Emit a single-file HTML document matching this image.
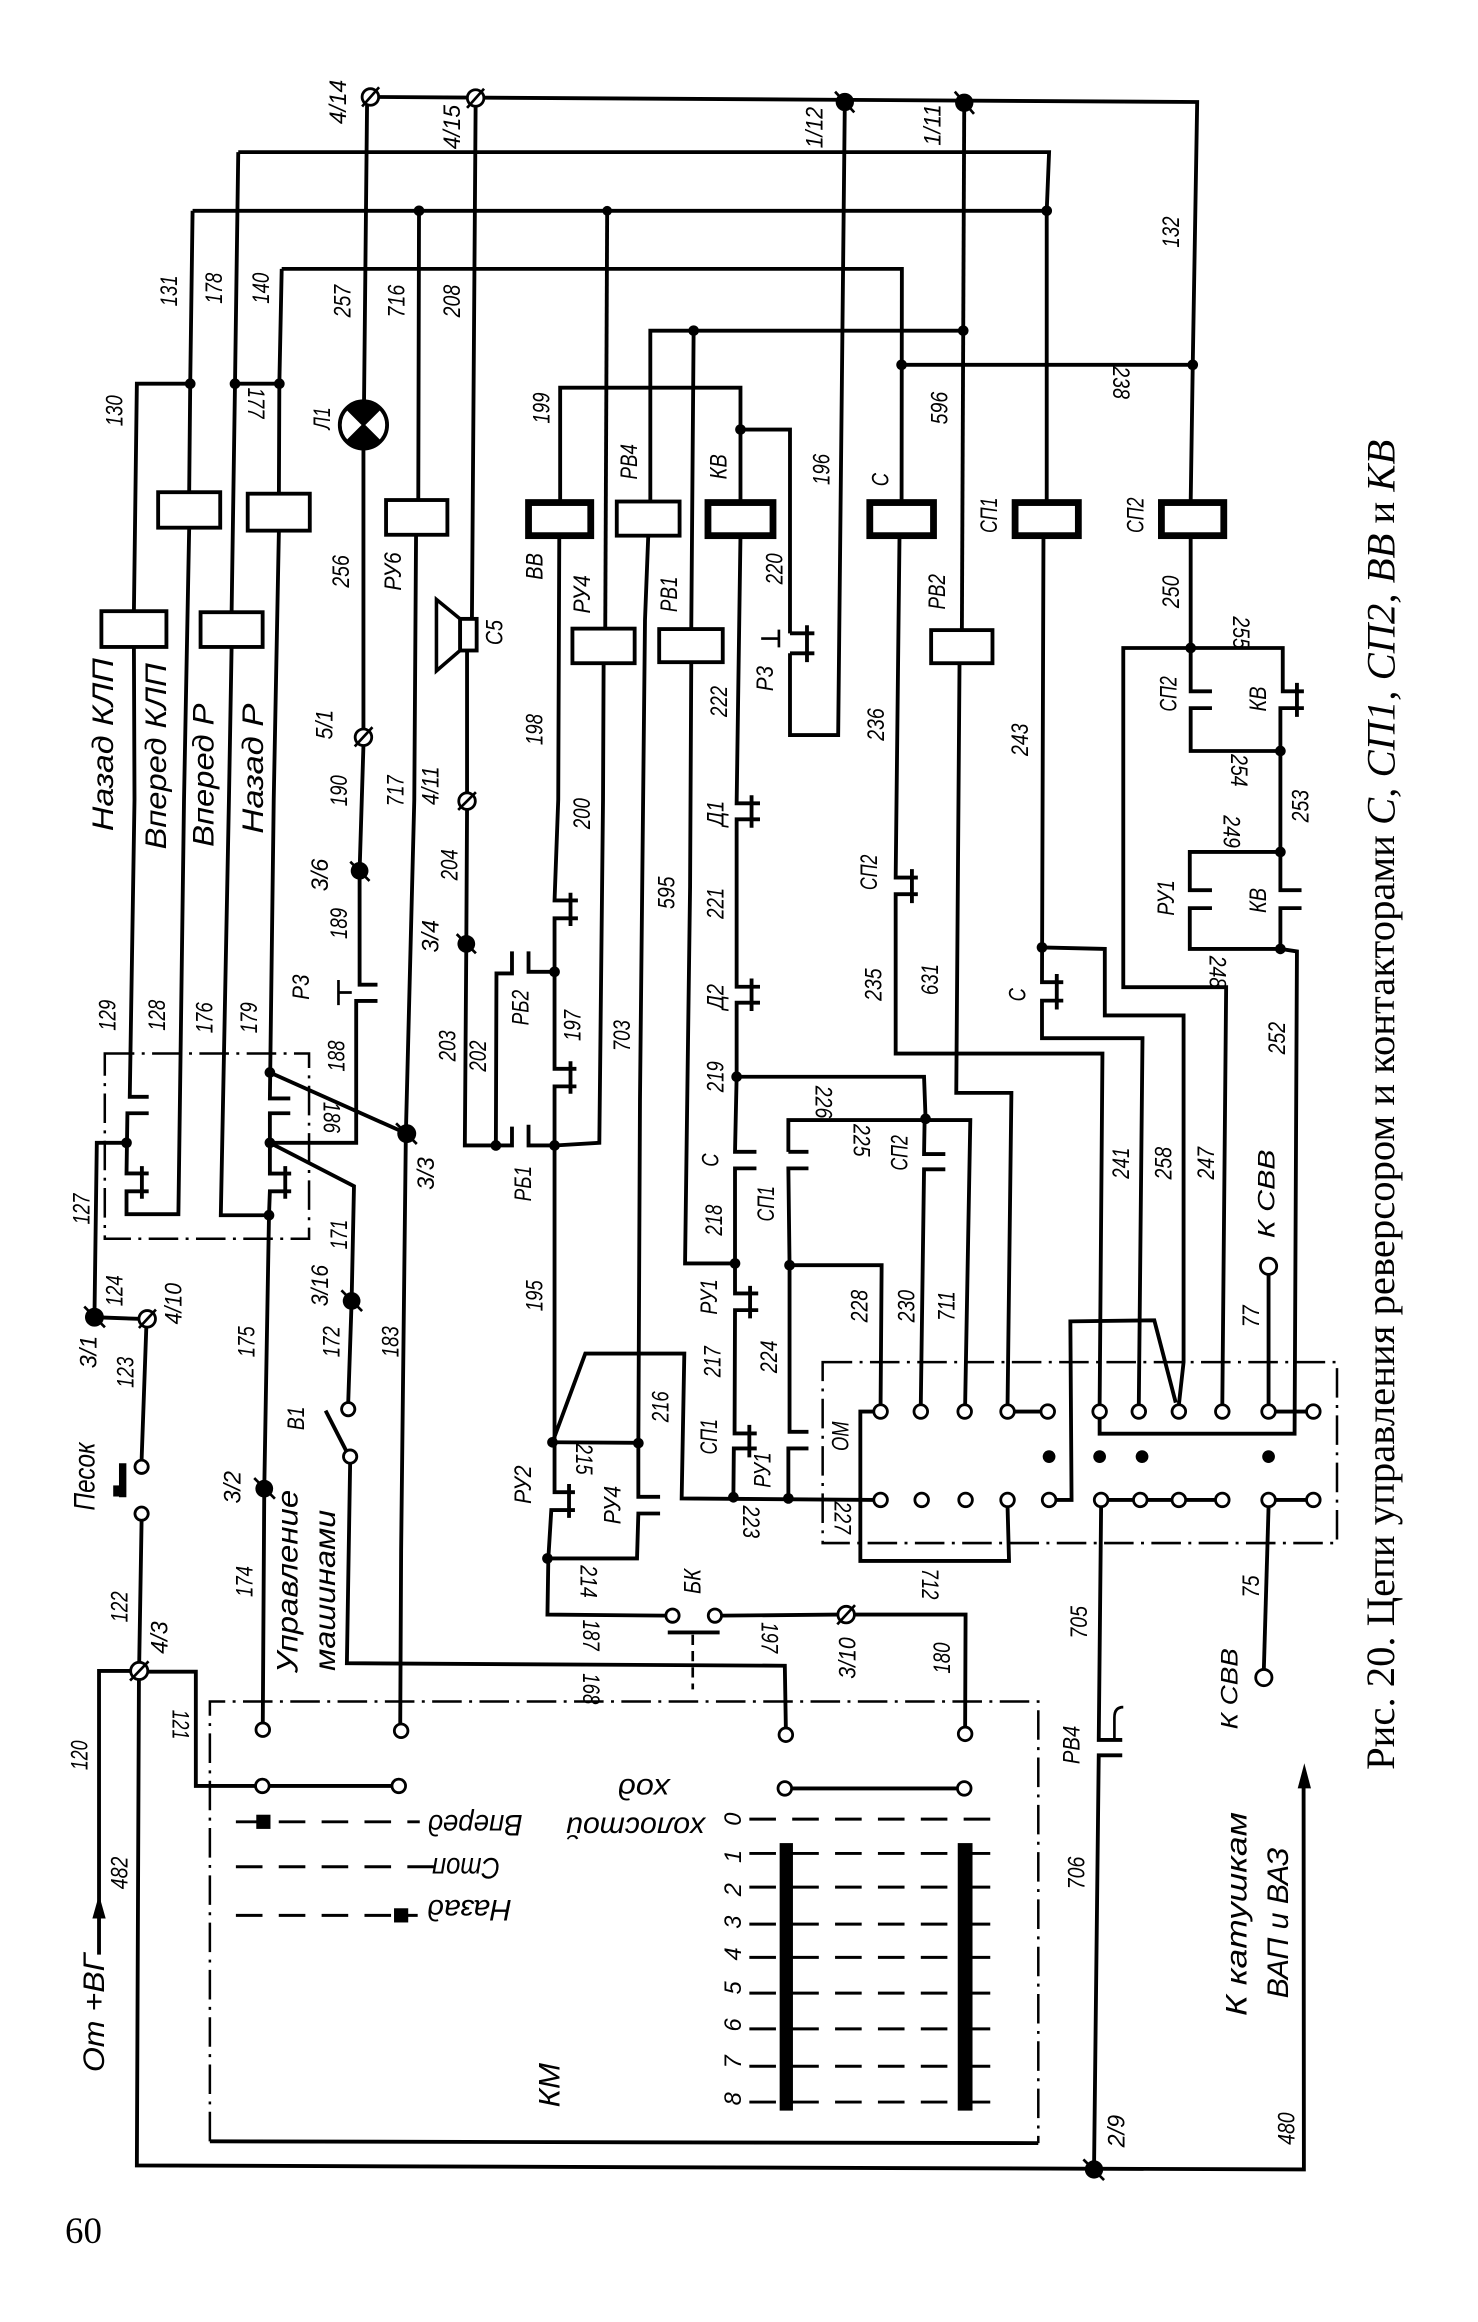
<!DOCTYPE html>
<html><head><meta charset="utf-8">
<style>
html,body{margin:0;padding:0;background:#fff;width:1478px;height:2322px;overflow:hidden}
svg{display:block}
.w{fill:none;stroke:#000;stroke-width:2.6;stroke-linejoin:miter}
.c{fill:#fff;stroke:#000;stroke-width:2.6}
.ct{fill:#fff;stroke:#000;stroke-width:4.6}
.dd{fill:none;stroke:#000;stroke-width:1.7;stroke-dasharray:20 5 2 5}
.o{fill:#fff;stroke:#000;stroke-width:1.9}
.dl{fill:none;stroke:#000;stroke-width:2;stroke-dasharray:18 11}
.tk{fill:none;stroke:#000;stroke-width:1.8}
text{font-family:"Liberation Sans",sans-serif;font-style:italic;fill:#000}
.l{font-size:16px;text-anchor:middle;dominant-baseline:central}
.b{font-size:20px;text-anchor:middle;dominant-baseline:central}
.cap{font-family:"Liberation Serif",serif;font-style:normal;font-size:27px;text-anchor:middle;dominant-baseline:central}
.pg{font-family:"Liberation Serif",serif;font-style:normal;font-size:25px;text-anchor:middle;dominant-baseline:central}
</style></head><body>
<svg width="1478" height="2322" viewBox="0 0 1000 1571" xmlns="http://www.w3.org/2000/svg">
<rect width="1000" height="1571" fill="#fff"/>

<!-- ===== TOP BUSES ===== -->
<path class="w" d="M256,65.6 L810,69 L807,246.8 L805.6,340"/>
<path class="w" d="M161.2,102.9 L709.8,102.9 L708.2,142.6 L708.2,340"/>
<path class="w" d="M130.3,142.6 L708.2,142.6"/>
<path class="w" d="M190.6,181.9 L610.2,181.9 L610,340"/>
<path class="w" d="M440,339.3 L440,223.7 L651.7,223.7"/>
<path class="w" d="M610,246.8 L807,246.8"/>
<path class="w" d="M652.4,69.5 L650.8,426.3"/>
<path class="w" d="M571.6,69 L567.1,497.3 L534.5,497.3 L534.5,442"/>
<path class="w" d="M379,340 L379,262.3 L501,262.3 L501,340"/>
<path class="w" d="M501,290.6 L534.5,290.6 L534.5,428.5"/>
<path class="w" d="M534.5,428.5 H551 M534.5,442 H551 M546,423 V448"/>
<path class="tk" d="M527,426 V438 M515,432 H527"/>

<!-- left top wiring -->
<path class="w" d="M130.3,142.6 L128.7,259.6 L128,333"/>
<path class="w" d="M128.7,259.6 L92.6,259.6 L90.6,413.5"/>
<path class="w" d="M161.2,102.9 L159,259.6 L156.7,414.2"/>
<path class="w" d="M190.6,181.9 L189,259.6 L188.7,334"/>
<path class="w" d="M159,259.6 L189,259.6"/>
<rect class="c" x="107" y="333" width="42" height="24"/>
<rect class="c" x="167.6" y="334" width="42" height="25"/>
<rect class="c" x="68.6" y="413.5" width="44" height="24.2"/>
<rect class="c" x="135.7" y="414.2" width="42" height="23.5"/>

<!-- contacts block left -->
<path class="w" d="M90.6,437.7 L91,541 L87.8,742.1 H100.6 M100.6,753.2 H86.2 L85.6,793.9 H100.6 M100.6,806 H85.6 L85.6,821.5 L120.7,821.5 L124.5,541 L128,357 M96,789 V811"/>
<path class="w" d="M188.7,359 L185.2,541 L182.6,743.2 H196.4 M196.4,753.2 H182.6 V794 H197 M197,806 H182.6 L182,822.2 L149.4,822.2 L154.9,541 L156.7,437.7 M193,789 V811"/>
<path class="w" d="M182,822.2 L178.8,1007.2 L177.8,1165.8"/>
<path class="w" d="M85.6,773.2 L65.5,773.2 L63.9,891.2 L94,892.3"/>
<path class="w" d="M182.6,725.6 L275.2,767"/>
<path class="w" d="M182.6,773.2 L239.5,802.5 L237.9,880.2 L235.6,948.9"/>
<path class="w" d="M182.6,773.2 L241,773.2 L241,677.2 H255.4 M255.4,666.2 H243.3 L243.3,589.2 L245.9,504.3"/>
<path class="tk" d="M229,663 V680 M229,671.5 H238"/>
<rect class="dd" x="70.9" y="712.8" width="138.2" height="125.3"/>

<!-- lamp -->
<path class="w" d="M248.4,65.6 L246.3,271.5 M245.9,303.5 L245.9,493.3"/>
<circle cx="245.9" cy="287.5" r="16" fill="#fff" stroke="#000" stroke-width="2.6"/>
<path d="M245.9,287.5 L234.6,276.2 A16,16 0 0 1 257.2,276.2 Z M245.9,287.5 L257.2,298.8 A16,16 0 0 1 234.6,298.8 Z" fill="#000"/>
<path class="tk" d="M234.6,276.2 L257.2,298.8 M257.2,276.2 L234.6,298.8"/>

<!-- РУ6 -->
<path class="w" d="M283.5,142.6 L283,338.3 M281.5,361.8 L280.3,541 L274.6,767 L271.4,1048.6 L270.8,1166"/>
<rect class="c" x="261.2" y="338.3" width="41.5" height="23.5"/>

<!-- 208 / speaker -->
<path class="w" d="M321.8,71.8 L319.3,418.7 M316,440.1 L316,536.5 M316,547.5 L315.5,638.6 L314.5,775 L346.4,775 L346.4,762.2 M357.6,761 L357.6,775 L375.2,775"/>
<path class="w" d="M335.5,775 L335.9,658.6 L346.4,658.6 L346.4,643.7 M357.6,643.7 L357.6,657.5 L375.2,657.5"/>
<polygon points="311.3,418.7 295.3,405.6 295.3,453.9 311.3,440.1" fill="#fff" stroke="#000" stroke-width="2.4"/>
<rect class="c" x="311.3" y="418.7" width="11.2" height="21.4"/>

<!-- ВВ line -->
<rect class="ct" x="357.6" y="340" width="42.1" height="22.4"/>
<path class="w" d="M378.4,362.4 L377.7,541 L375.2,609.2 H391 M391,621.3 H375.2 L375.2,723.1 H390 M390,735 H375.2 L375.2,1009.6 H389 M389,1021.7 H373 L371,1054.4 L370.4,1092.4 L450.5,1093.1 M386,604 V626.5 M386,718 V740 M385,1004 V1027"/>
<path class="w" d="M408.4,448.7 L408,541 L405.5,773.2 L375.2,775"/>
<rect class="c" x="387.3" y="425.3" width="42.1" height="23.4"/>
<path class="w" d="M410.8,142.6 L409.5,425.3"/>
<path class="w" d="M373.8,975.8 L396,915.8 L463,915.8 L461.2,1013.8 L591.3,1014.8"/>
<path class="w" d="M373.8,975.8 L431.7,976.2"/>

<!-- РВ4 / 595 -->
<rect class="c" x="417.3" y="339.3" width="42.5" height="23.1"/>
<path class="w" d="M438.6,362.4 L436.4,419.5 L433,744 L431.9,976.6 L431.9,1012.7 H446.6 M446.6,1024 H431.9 L431,1054.4 L370.4,1054.4"/>
<!-- РВ1 -->
<rect class="c" x="446" y="425.6" width="43" height="22.4"/>
<path class="w" d="M469.3,223.7 L467.7,425.6 M467.7,448 L466.9,600 L463.5,854.8 L497.3,854.8"/>
<!-- КВ -->
<rect class="ct" x="479" y="340" width="44" height="22.4"/>
<path class="w" d="M501,362.4 L498.4,543.5 H514.2 M514.2,554.3 H498.4 L498.4,667.6 H514.2 M514.2,678.4 H498.4 L498.4,728.5 L497.3,779.3 H511.8 M511.8,790.5 H497.3 L497.3,875.1 H513 M513,886.4 H497.3 L497,969.8 H512 M512,980 H496.5 L496.2,1012.7 M508.5,538 V560 M508.5,662 V684 M507.5,870 V892 M507,964 V986"/>
<path class="w" d="M498.4,728.5 L625.2,728.5 L626.2,756"/>
<path class="w" d="M533.4,779.3 L533.4,757.8 L656.5,757.8 L653,950.5"/>
<path class="w" d="M533.4,779.3 H547 M547,790.5 H533.4 L534.2,856 L534.2,968.7 H547 M547,980 H533.4 L533.4,1013.8"/>
<path class="w" d="M534.2,856 L596.5,856 L595.8,950.5"/>
<path class="w" d="M625.6,757 L625.2,780.8 H639.6 M639.6,791.1 H625.2 L623,950.5"/>

<!-- С coil -->
<rect class="ct" x="588.5" y="340" width="43.1" height="22.4"/>
<path class="w" d="M608.6,362.4 L606,593.7 H621 M621,605 H606 L606,712.8 L745.9,712.8 L744,950.5 M617,588 V611"/>
<!-- РВ2 -->
<rect class="c" x="630" y="426.3" width="41.5" height="22.4"/>
<path class="w" d="M649.2,448.7 L647,739.4 L684.3,739.4 L681.7,950.5"/>
<!-- СП1 -->
<rect class="ct" x="686.8" y="340" width="42.8" height="22.4"/>
<path class="w" d="M706,362.4 L705,664.5 H719.4 M719.4,677 H705 L705,702.4 L773,702.4 L770.5,950.5 M715,659 V683"/>
<path class="w" d="M705,641 L747.5,642 L747.5,687 L800.8,687 L800.8,921.6 L797.6,950.5"/>
<path class="w" d="M714.3,1014.8 L725,1014.8 L724.2,894 L781,893.3 L795.5,949"/>
<!-- СП2 -->
<rect class="ct" x="785.8" y="340" width="42.2" height="22.4"/>
<path class="w" d="M805.6,362.4 L805.6,467.7 H820 M820,479.1 H805.6 L805.6,508.1 L866.3,508.1"/>
<path class="w" d="M805.6,438.4 L760,438.4 L760,667.9 L829.6,667.9 L827,950.5"/>
<path class="w" d="M805.6,438.4 L867.9,438.4 L867.9,467.7 H882.2 M882.2,479.1 H866.3 L866.3,602.3 H880.6 M880.6,614.4 H866.3 L866.3,642 L877.5,643.7 L875.9,970 L744,970 L744,959.5 M877.5,462 V485"/>
<path class="w" d="M866.3,576.4 L805,576.4 L805,602.3 H820 M820,614.4 H805 L805,642 L866.3,642"/>
<path class="w" d="M858.3,862.2 L858.3,950.5"/>
<circle class="o" cx="858.3" cy="856.7" r="5.5"/>

<!-- OM block -->
<rect class="dd" x="556.6" y="921.6" width="348" height="122.4"/>
<path class="w" d="M686.2,955 H704.4 M862.8,955 H884.1 M749.5,1014.8 H767 M776,1014.8 H793.1 M802.1,1014.8 H822.5 M862.8,1014.8 H884.1"/>
<path class="w" d="M591.3,955 H582.1 V1056.1 H682.7 L681.7,1019.3"/>
<path class="w" d="M745,1019.3 L743.4,1177.2 H759.3 M759.3,1187.6 H743.4 L740.2,1467.8"/>
<path class="tk" d="M754,1177.2 V1162 Q754,1155 760,1155" stroke-width="2.2"/>
<path class="w" d="M858.3,1019.3 L855.1,1129.5"/>
<circle class="o" cx="855.1" cy="1135" r="5.5"/>
<g class="o">
<circle cx="595.8" cy="955" r="4.6"/><circle cx="623" cy="955" r="4.6"/><circle cx="652.7" cy="955" r="4.6"/><circle cx="681.7" cy="955" r="4.6"/><circle cx="708.9" cy="955" r="4.6"/><circle cx="744" cy="955" r="4.6"/><circle cx="770.5" cy="955" r="4.6"/><circle cx="797.6" cy="955" r="4.6"/><circle cx="827" cy="955" r="4.6"/><circle cx="858.3" cy="955" r="4.6"/><circle cx="888.6" cy="955" r="4.6"/>
<circle cx="595.8" cy="1014.8" r="4.6"/><circle cx="623.6" cy="1014.8" r="4.6"/><circle cx="653.3" cy="1014.8" r="4.6"/><circle cx="681.7" cy="1014.8" r="4.6"/><circle cx="709.8" cy="1014.8" r="4.6"/><circle cx="745" cy="1014.8" r="4.6"/><circle cx="771.5" cy="1014.8" r="4.6"/><circle cx="797.6" cy="1014.8" r="4.6"/><circle cx="827" cy="1014.8" r="4.6"/><circle cx="858.3" cy="1014.8" r="4.6"/><circle cx="888.6" cy="1014.8" r="4.6"/>
</g>
<g fill="#000"><circle cx="709.8" cy="985.5" r="4.3"/><circle cx="744" cy="985.5" r="4.3"/><circle cx="772.7" cy="985.5" r="4.3"/><circle cx="858.3" cy="985.5" r="4.3"/></g>

<!-- Песок / left supply -->
<path class="w" d="M99,897.8 L95.8,987.9 M95.8,1028.6 L94.2,1124.5"/>
<circle class="o" cx="95.8" cy="992.4" r="4.5"/><circle class="o" cx="95.8" cy="1024.1" r="4.5"/>
<rect x="80.5" y="990" width="5" height="23" fill="#000"/>
<rect x="76.6" y="1005" width="6" height="7.5" fill="#000"/>
<path class="w" d="M88.7,1130.5 H67 V1322.5"/>
<polygon points="67,1282 62.5,1298 71.5,1298" fill="#000"/>
<path class="w" d="M99.7,1131 H132.5 V1208.3 H173 M182,1208.3 H265.3"/>
<path class="w" d="M94,1136 L92.6,1465.1 L882.2,1467.8 L882,1205"/>
<polygon points="882.5,1193 878,1210 887,1210" fill="#000"/>

<!-- КМ -->
<path class="dd" d="M142,1448.8 V1151.2 H702.5 V1450"/>
<path class="w" d="M142,1448.8 L702.5,1450" stroke-width="2"/>
<path class="w" d="M535.5,1210 H648"/>
<path class="w" d="M236.9,990 L234.7,1125.3 L531,1127 L531.7,1169.2"/>
<path class="w" d="M488.2,1093.1 L567,1092.4 M578,1092.4 L653.3,1092.4 L653,1168.6"/>
<path class="w" d="M451.8,1104.5 H486.9" stroke-width="3.6"/>
<path class="tk" d="M468.7,1106 V1143" stroke-dasharray="7 4" stroke-width="2.2"/>
<path class="w" d="M220.3,954.4 L234.2,981.5"/>
<g class="o">
<circle cx="177.8" cy="1170.3" r="4.6"/><circle cx="271.4" cy="1171" r="4.6"/><circle cx="531.7" cy="1173.7" r="4.6"/><circle cx="653" cy="1173.1" r="4.6"/>
<circle cx="177.5" cy="1208.3" r="4.6"/><circle cx="269.8" cy="1208.3" r="4.6"/><circle cx="531" cy="1210" r="4.6"/><circle cx="652.4" cy="1210" r="4.6"/>
<circle cx="455" cy="1093.1" r="4.5"/><circle cx="483.7" cy="1093.1" r="4.5"/>
<circle cx="235.6" cy="953.4" r="4.5"/><circle cx="236.9" cy="985.5" r="4.5"/>
</g>
<path class="dl" d="M159.6,1232.6 H284 M159.6,1263 H294 M159.6,1295.9 H282.6"/>
<rect x="173.4" y="1227.8" width="9.6" height="9.6" fill="#000"/>
<rect x="266.6" y="1291.1" width="9.6" height="9.6" fill="#000"/>
<path class="dl" d="M507,1230.8 H680 M507,1254 H680 M507,1276.8 H680 M507,1301.8 H680 M507,1324.3 H680 M507,1348.5 H680 M507,1372.7 H680 M507,1398 H680 M507,1422.2 H680" stroke-dasharray="17 9"/>
<rect x="527.5" y="1247" width="9" height="181" fill="#000"/>
<rect x="648" y="1247" width="10" height="181" fill="#000"/>

<!-- junction dots -->
<g fill="#000">
<circle cx="128.7" cy="259.6" r="3.6"/><circle cx="159" cy="259.6" r="3.6"/><circle cx="189" cy="259.6" r="3.6"/>
<circle cx="283.5" cy="142.6" r="3.6"/><circle cx="410.8" cy="142.6" r="3.3"/><circle cx="708.2" cy="142.6" r="3.6"/>
<circle cx="469.3" cy="223.7" r="3.6"/><circle cx="651.7" cy="223.7" r="3.6"/>
<circle cx="610" cy="246.8" r="3.6"/><circle cx="807" cy="246.8" r="3.6"/>
<circle cx="501" cy="290.6" r="3.6"/>
<circle cx="85.6" cy="773.2" r="3.6"/><circle cx="182.6" cy="725.6" r="3.6"/><circle cx="182.6" cy="773.2" r="3.6"/><circle cx="182" cy="822.2" r="3.6"/>
<circle cx="375.2" cy="657.5" r="3.6"/><circle cx="375.2" cy="775" r="3.6"/><circle cx="335.5" cy="775" r="3.6"/>
<circle cx="373.8" cy="975.8" r="3.6"/><circle cx="431.9" cy="976.4" r="3.6"/><circle cx="370.4" cy="1054.4" r="3.6"/>
<circle cx="498.4" cy="728.5" r="3.6"/><circle cx="497.3" cy="854.8" r="3.6"/><circle cx="496.2" cy="1013" r="3.6"/><circle cx="533.4" cy="1013.8" r="3.6"/>
<circle cx="534.2" cy="856" r="3.6"/><circle cx="626.2" cy="757" r="3.6"/>
<circle cx="705" cy="641" r="3.6"/>
<circle cx="805.6" cy="438.4" r="3.6"/><circle cx="866.3" cy="508.1" r="3.6"/><circle cx="866.3" cy="576.4" r="3.6"/><circle cx="866.3" cy="642" r="3.6"/>
</g>
<!-- big terminal dots -->
<g fill="#000">
<circle cx="571.6" cy="69" r="6.2"/><circle cx="652.4" cy="69.5" r="6.2"/>
<circle cx="243.3" cy="589.2" r="6"/><circle cx="315.5" cy="638.6" r="6"/><circle cx="275.2" cy="767" r="6.4"/>
<circle cx="63.9" cy="891.2" r="6.4"/><circle cx="237.9" cy="880.2" r="6"/><circle cx="178.8" cy="1007.2" r="6"/>
<circle cx="740.2" cy="1467.8" r="6.2"/>
</g>
<path class="tk" d="M565,62 L578,76 M646,62 L659,77 M237,583 L250,596 M309,632 L322,645 M268,760 L282,774 M57,884 L71,898 M231,873 L245,887 M172,1000 L186,1014 M733,1461 L747,1475"/>
<!-- slash terminals -->
<g class="o">
<circle cx="250.6" cy="65.6" r="5.6"/><circle cx="321.8" cy="66.3" r="5.6"/><circle cx="245.9" cy="498.8" r="5.6"/><circle cx="316" cy="542" r="5.6"/>
<circle cx="99.6" cy="892.3" r="5.6"/><circle cx="94.2" cy="1130.5" r="5.8"/><circle cx="572.5" cy="1092.4" r="5.6"/>
</g>
<path class="tk" d="M245,72 L256.5,59 M316,73 L327.5,60 M240,505 L252,492 M310,548 L322,536 M94,898.5 L105.5,886 M88,1137 L100.5,1124 M566.5,1099 L578.5,1086"/>

<!-- ===== LABELS ===== -->
<g class="l">
<text transform="translate(229.5,69) rotate(-90)" textLength="30" lengthAdjust="spacingAndGlyphs">4/14</text>
<text transform="translate(306.5,86) rotate(-90)" textLength="30" lengthAdjust="spacingAndGlyphs">4/15</text>
<text transform="translate(551.8,86.3) rotate(-90)" textLength="28" lengthAdjust="spacingAndGlyphs">1/12</text>
<text transform="translate(631.6,84.6) rotate(-90)" textLength="28" lengthAdjust="spacingAndGlyphs">1/11</text>
<text transform="translate(792.9,157) rotate(-90)" textLength="21" lengthAdjust="spacingAndGlyphs">132</text>
<text transform="translate(115,196.8) rotate(-90)" textLength="21" lengthAdjust="spacingAndGlyphs">131</text>
<text transform="translate(145.3,195) rotate(-90)" textLength="21" lengthAdjust="spacingAndGlyphs">178</text>
<text transform="translate(177.2,195) rotate(-90)" textLength="21" lengthAdjust="spacingAndGlyphs">140</text>
<text transform="translate(232.4,203.7) rotate(-90)" textLength="22" lengthAdjust="spacingAndGlyphs">257</text>
<text transform="translate(268.8,203.7) rotate(-90)" textLength="22" lengthAdjust="spacingAndGlyphs">716</text>
<text transform="translate(306.5,203.7) rotate(-90)" textLength="22" lengthAdjust="spacingAndGlyphs">208</text>
<text transform="translate(757.7,258.9) rotate(90)" textLength="22" lengthAdjust="spacingAndGlyphs">238</text>
<text transform="translate(78.2,277.9) rotate(-90)" textLength="21" lengthAdjust="spacingAndGlyphs">130</text>
<text transform="translate(172.4,272.7) rotate(90)" textLength="21" lengthAdjust="spacingAndGlyphs">177</text>
<text transform="translate(218.7,283) rotate(-90)" textLength="15" lengthAdjust="spacingAndGlyphs">Л1</text>
<text transform="translate(367.2,276.1) rotate(-90)" textLength="21" lengthAdjust="spacingAndGlyphs">199</text>
<text transform="translate(426.2,312.4) rotate(-90)" textLength="24" lengthAdjust="spacingAndGlyphs">РВ4</text>
<text transform="translate(486.9,315.8) rotate(-90)" textLength="17" lengthAdjust="spacingAndGlyphs">КВ</text>
<text transform="translate(636.4,276.1) rotate(-90)" textLength="22" lengthAdjust="spacingAndGlyphs">596</text>
<text transform="translate(556.6,317.6) rotate(-90)" textLength="21" lengthAdjust="spacingAndGlyphs">196</text>
<text transform="translate(596.5,324.5) rotate(-90)" textLength="9" lengthAdjust="spacingAndGlyphs">С</text>
<text transform="translate(669.9,348.6) rotate(-90)" textLength="24" lengthAdjust="spacingAndGlyphs">СП1</text>
<text transform="translate(768.9,348.6) rotate(-90)" textLength="24" lengthAdjust="spacingAndGlyphs">СП2</text>
<text transform="translate(362.4,383.2) rotate(-90)" textLength="18" lengthAdjust="spacingAndGlyphs">ВВ</text>
<text transform="translate(231.5,386.6) rotate(-90)" textLength="22" lengthAdjust="spacingAndGlyphs">256</text>
<text transform="translate(266.6,386.6) rotate(-90)" textLength="26" lengthAdjust="spacingAndGlyphs">РУ6</text>
<text transform="translate(524.6,384.9) rotate(-90)" textLength="21" lengthAdjust="spacingAndGlyphs">220</text>
<text transform="translate(394.3,402.1) rotate(-90)" textLength="26" lengthAdjust="spacingAndGlyphs">РУ4</text>
<text transform="translate(453.4,402.1) rotate(-90)" textLength="24" lengthAdjust="spacingAndGlyphs">РВ1</text>
<text transform="translate(634.8,400.4) rotate(-90)" textLength="24" lengthAdjust="spacingAndGlyphs">РВ2</text>
<text transform="translate(792.9,400.4) rotate(-90)" textLength="22" lengthAdjust="spacingAndGlyphs">250</text>
<text transform="translate(335.2,428) rotate(-90)" textLength="17" lengthAdjust="spacingAndGlyphs">С5</text>
<text transform="translate(839.1,428) rotate(90)" textLength="22" lengthAdjust="spacingAndGlyphs">255</text>
<text transform="translate(518.3,459.1) rotate(-90)" textLength="17" lengthAdjust="spacingAndGlyphs">Р3</text>
<text transform="translate(791.2,469.5) rotate(-90)" textLength="24" lengthAdjust="spacingAndGlyphs">СП2</text>
<text transform="translate(851.9,472.9) rotate(-90)" textLength="17" lengthAdjust="spacingAndGlyphs">КВ</text>
<text transform="translate(362.4,493.6) rotate(-90)" textLength="21" lengthAdjust="spacingAndGlyphs">198</text>
<text transform="translate(487,474.6) rotate(-90)" textLength="21" lengthAdjust="spacingAndGlyphs">222</text>
<text transform="translate(220.3,490.2) rotate(-90)" textLength="20" lengthAdjust="spacingAndGlyphs">5/1</text>
<text transform="translate(593.3,490.2) rotate(-90)" textLength="22" lengthAdjust="spacingAndGlyphs">236</text>
<text transform="translate(690.7,500.5) rotate(-90)" textLength="22" lengthAdjust="spacingAndGlyphs">243</text>
<text transform="translate(837.5,521.2) rotate(90)" textLength="22" lengthAdjust="spacingAndGlyphs">254</text>
<text transform="translate(229.9,535) rotate(-90)" textLength="21" lengthAdjust="spacingAndGlyphs">190</text>
<text transform="translate(268.2,535) rotate(-90)" textLength="21" lengthAdjust="spacingAndGlyphs">717</text>
<text transform="translate(292.1,531.6) rotate(-90)" textLength="26" lengthAdjust="spacingAndGlyphs">4/11</text>
<text transform="translate(394.3,550.5) rotate(-90)" textLength="21" lengthAdjust="spacingAndGlyphs">200</text>
<text transform="translate(880.6,545.4) rotate(-90)" textLength="22" lengthAdjust="spacingAndGlyphs">253</text>
<text transform="translate(832.7,562.6) rotate(90)" textLength="22" lengthAdjust="spacingAndGlyphs">249</text>
<text transform="translate(217.1,592) rotate(-90)" textLength="22" lengthAdjust="spacingAndGlyphs">3/6</text>
<text transform="translate(304.9,585.1) rotate(-90)" textLength="21" lengthAdjust="spacingAndGlyphs">204</text>
<text transform="translate(451.5,604) rotate(-90)" textLength="22" lengthAdjust="spacingAndGlyphs">595</text>
<text transform="translate(484.9,611.2) rotate(-90)" textLength="21" lengthAdjust="spacingAndGlyphs">221</text>
<text transform="translate(484.9,550.3) rotate(-90)" textLength="17" lengthAdjust="spacingAndGlyphs">Д1</text>
<text transform="translate(484.9,674.3) rotate(-90)" textLength="17" lengthAdjust="spacingAndGlyphs">Д2</text>
<text transform="translate(484.9,728.5) rotate(-90)" textLength="21" lengthAdjust="spacingAndGlyphs">219</text>
<text transform="translate(588.5,590.2) rotate(-90)" textLength="24" lengthAdjust="spacingAndGlyphs">СП2</text>
<text transform="translate(789.6,607.5) rotate(-90)" textLength="24" lengthAdjust="spacingAndGlyphs">РУ1</text>
<text transform="translate(851.9,609.2) rotate(-90)" textLength="17" lengthAdjust="spacingAndGlyphs">КВ</text>
<text transform="translate(229.9,624.8) rotate(-90)" textLength="21" lengthAdjust="spacingAndGlyphs">189</text>
<text transform="translate(292.1,633.4) rotate(-90)" textLength="22" lengthAdjust="spacingAndGlyphs">3/4</text>
<text transform="translate(823.2,657.6) rotate(90)" textLength="22" lengthAdjust="spacingAndGlyphs">248</text>
<text transform="translate(591.7,666.2) rotate(-90)" textLength="22" lengthAdjust="spacingAndGlyphs">235</text>
<text transform="translate(630,662.7) rotate(-90)" textLength="21" lengthAdjust="spacingAndGlyphs">631</text>
<text transform="translate(689,673) rotate(-90)" textLength="9" lengthAdjust="spacingAndGlyphs">С</text>
<text transform="translate(204.3,667.9) rotate(-90)" textLength="17" lengthAdjust="spacingAndGlyphs">Р3</text>
<text transform="translate(73.4,686.9) rotate(-90)" textLength="21" lengthAdjust="spacingAndGlyphs">129</text>
<text transform="translate(107,686.9) rotate(-90)" textLength="21" lengthAdjust="spacingAndGlyphs">128</text>
<text transform="translate(138.9,688.6) rotate(-90)" textLength="21" lengthAdjust="spacingAndGlyphs">176</text>
<text transform="translate(169.2,688.6) rotate(-90)" textLength="21" lengthAdjust="spacingAndGlyphs">179</text>
<text transform="translate(352.8,681.7) rotate(-90)" textLength="24" lengthAdjust="spacingAndGlyphs">РБ2</text>
<text transform="translate(388,693.8) rotate(-90)" textLength="21" lengthAdjust="spacingAndGlyphs">197</text>
<text transform="translate(421.5,700.7) rotate(-90)" textLength="21" lengthAdjust="spacingAndGlyphs">703</text>
<text transform="translate(864.7,702.4) rotate(-90)" textLength="22" lengthAdjust="spacingAndGlyphs">252</text>
<text transform="translate(303.3,707.6) rotate(-90)" textLength="21" lengthAdjust="spacingAndGlyphs">203</text>
<text transform="translate(324,714.5) rotate(-90)" textLength="21" lengthAdjust="spacingAndGlyphs">202</text>
<text transform="translate(228.3,714.5) rotate(-90)" textLength="21" lengthAdjust="spacingAndGlyphs">188</text>
<text transform="translate(223.5,756) rotate(90)" textLength="21" lengthAdjust="spacingAndGlyphs">186</text>
<text transform="translate(556.6,745.6) rotate(90)" textLength="22" lengthAdjust="spacingAndGlyphs">226</text>
<text transform="translate(582.1,771.5) rotate(90)" textLength="22" lengthAdjust="spacingAndGlyphs">225</text>
<text transform="translate(609.3,780) rotate(-90)" textLength="24" lengthAdjust="spacingAndGlyphs">СП2</text>
<text transform="translate(481.5,784.9) rotate(-90)" textLength="9" lengthAdjust="spacingAndGlyphs">С</text>
<text transform="translate(289,794) rotate(-90)" textLength="22" lengthAdjust="spacingAndGlyphs">3/3</text>
<text transform="translate(354.4,800.8) rotate(-90)" textLength="24" lengthAdjust="spacingAndGlyphs">РБ1</text>
<text transform="translate(759.3,787) rotate(-90)" textLength="21" lengthAdjust="spacingAndGlyphs">241</text>
<text transform="translate(788,787) rotate(-90)" textLength="22" lengthAdjust="spacingAndGlyphs">258</text>
<text transform="translate(816.8,787) rotate(-90)" textLength="22" lengthAdjust="spacingAndGlyphs">247</text>
<text transform="translate(519,814.4) rotate(-90)" textLength="24" lengthAdjust="spacingAndGlyphs">СП1</text>
<text transform="translate(55.9,818) rotate(-90)" textLength="21" lengthAdjust="spacingAndGlyphs">127</text>
<text transform="translate(229.9,835.3) rotate(-90)" textLength="20" lengthAdjust="spacingAndGlyphs">171</text>
<text transform="translate(483.6,825.5) rotate(-90)" textLength="21" lengthAdjust="spacingAndGlyphs">218</text>
<text transform="translate(362.4,876.7) rotate(-90)" textLength="21" lengthAdjust="spacingAndGlyphs">195</text>
<text transform="translate(217.1,869.8) rotate(-90)" textLength="28" lengthAdjust="spacingAndGlyphs">3/16</text>
<text transform="translate(78.2,873.3) rotate(-90)" textLength="21" lengthAdjust="spacingAndGlyphs">124</text>
<text transform="translate(118.1,882) rotate(-90)" textLength="28" lengthAdjust="spacingAndGlyphs">4/10</text>
<text transform="translate(480.4,877.4) rotate(-90)" textLength="24" lengthAdjust="spacingAndGlyphs">РУ1</text>
<text transform="translate(582.1,883.7) rotate(-90)" textLength="22" lengthAdjust="spacingAndGlyphs">228</text>
<text transform="translate(614,883.7) rotate(-90)" textLength="22" lengthAdjust="spacingAndGlyphs">230</text>
<text transform="translate(641.2,883.7) rotate(-90)" textLength="20" lengthAdjust="spacingAndGlyphs">711</text>
<text transform="translate(847.1,890.6) rotate(-90)" textLength="15" lengthAdjust="spacingAndGlyphs">77</text>
<text transform="translate(167.6,907.8) rotate(-90)" textLength="21" lengthAdjust="spacingAndGlyphs">175</text>
<text transform="translate(225.1,907.8) rotate(-90)" textLength="21" lengthAdjust="spacingAndGlyphs">172</text>
<text transform="translate(265,907.8) rotate(-90)" textLength="21" lengthAdjust="spacingAndGlyphs">183</text>
<text transform="translate(60.7,914.7) rotate(-90)" textLength="22" lengthAdjust="spacingAndGlyphs">3/1</text>
<text transform="translate(85.6,928.5) rotate(-90)" textLength="21" lengthAdjust="spacingAndGlyphs">123</text>
<text transform="translate(482.6,921.3) rotate(-90)" textLength="21" lengthAdjust="spacingAndGlyphs">217</text>
<text transform="translate(521,918) rotate(-90)" textLength="22" lengthAdjust="spacingAndGlyphs">224</text>
<text transform="translate(447.7,951.8) rotate(-90)" textLength="21" lengthAdjust="spacingAndGlyphs">216</text>
<text transform="translate(201,959.6) rotate(-90)" textLength="16" lengthAdjust="spacingAndGlyphs">В1</text>
<text transform="translate(480.4,972.1) rotate(-90)" textLength="24" lengthAdjust="spacingAndGlyphs">СП1</text>
<text transform="translate(569.3,971.7) rotate(-90)" textLength="20" lengthAdjust="spacingAndGlyphs">ОМ</text>
<text transform="translate(394.3,987.2) rotate(90)" textLength="21" lengthAdjust="spacingAndGlyphs">215</text>
<text transform="translate(516.5,994.6) rotate(-90)" textLength="24" lengthAdjust="spacingAndGlyphs">РУ1</text>
<text transform="translate(158,1006.2) rotate(-90)" textLength="22" lengthAdjust="spacingAndGlyphs">3/2</text>
<text transform="translate(354.4,1004.5) rotate(-90)" textLength="26" lengthAdjust="spacingAndGlyphs">РУ2</text>
<text transform="translate(415,1018.3) rotate(-90)" textLength="26" lengthAdjust="spacingAndGlyphs">РУ4</text>
<text transform="translate(569.3,1026.9) rotate(90)" textLength="22" lengthAdjust="spacingAndGlyphs">227</text>
<text transform="translate(507.5,1029.6) rotate(90)" textLength="22" lengthAdjust="spacingAndGlyphs">223</text>
<text transform="translate(166,1070) rotate(-90)" textLength="21" lengthAdjust="spacingAndGlyphs">174</text>
<text transform="translate(81.4,1087.2) rotate(-90)" textLength="21" lengthAdjust="spacingAndGlyphs">122</text>
<text transform="translate(108.6,1108) rotate(-90)" textLength="22" lengthAdjust="spacingAndGlyphs">4/3</text>
<text transform="translate(397.5,1070) rotate(90)" textLength="22" lengthAdjust="spacingAndGlyphs">214</text>
<text transform="translate(469.3,1070) rotate(-90)" textLength="17" lengthAdjust="spacingAndGlyphs">БК</text>
<text transform="translate(399.1,1106.3) rotate(90)" textLength="21" lengthAdjust="spacingAndGlyphs">187</text>
<text transform="translate(399.1,1142.6) rotate(90)" textLength="21" lengthAdjust="spacingAndGlyphs">168</text>
<text transform="translate(519.9,1108) rotate(90)" textLength="21" lengthAdjust="spacingAndGlyphs">197</text>
<text transform="translate(628.4,1071.7) rotate(90)" textLength="21" lengthAdjust="spacingAndGlyphs">712</text>
<text transform="translate(574,1121.8) rotate(-90)" textLength="28" lengthAdjust="spacingAndGlyphs">3/10</text>
<text transform="translate(638,1121.8) rotate(-90)" textLength="21" lengthAdjust="spacingAndGlyphs">180</text>
<text transform="translate(730.6,1097.6) rotate(-90)" textLength="22" lengthAdjust="spacingAndGlyphs">705</text>
<text transform="translate(847.1,1073.4) rotate(-90)" textLength="15" lengthAdjust="spacingAndGlyphs">75</text>
<text transform="translate(121.3,1166.8) rotate(90)" textLength="20" lengthAdjust="spacingAndGlyphs">121</text>
<text transform="translate(725.8,1180.6) rotate(-90)" textLength="26" lengthAdjust="spacingAndGlyphs">РВ4</text>
<text transform="translate(54.3,1187.6) rotate(-90)" textLength="20" lengthAdjust="spacingAndGlyphs">120</text>
<text transform="translate(81.4,1267.2) rotate(-90)" textLength="22" lengthAdjust="spacingAndGlyphs">482</text>
<text transform="translate(729,1267.2) rotate(-90)" textLength="22" lengthAdjust="spacingAndGlyphs">706</text>
<text transform="translate(756.1,1441.9) rotate(-90)" textLength="22" lengthAdjust="spacingAndGlyphs">2/9</text>
<text transform="translate(871,1440.2) rotate(-90)" textLength="22" lengthAdjust="spacingAndGlyphs">480</text>
<text transform="translate(857.5,807.7) rotate(-90)" textLength="60" lengthAdjust="spacingAndGlyphs">К СВВ</text>
<text transform="translate(832.7,1142.6) rotate(-90)" textLength="55" lengthAdjust="spacingAndGlyphs">К СВВ</text>
<!-- KM row numbers -->
<text transform="translate(496.5,1230.8) rotate(-90)">0</text>
<text transform="translate(496.5,1256) rotate(-90)">1</text>
<text transform="translate(496.5,1278.5) rotate(-90)">2</text>
<text transform="translate(496.5,1300.5) rotate(-90)">3</text>
<text transform="translate(496.5,1322) rotate(-90)">4</text>
<text transform="translate(496.5,1345) rotate(-90)">5</text>
<text transform="translate(496.5,1370) rotate(-90)">6</text>
<text transform="translate(496.5,1395) rotate(-90)">7</text>
<text transform="translate(496.5,1420) rotate(-90)">8</text>
</g>

<g class="b">
<text transform="translate(70,503.8) rotate(-90)" textLength="117" lengthAdjust="spacingAndGlyphs">Назад КЛП</text>
<text transform="translate(106,511.7) rotate(-90)" textLength="126" lengthAdjust="spacingAndGlyphs">Вперед КЛП</text>
<text transform="translate(138,524.5) rotate(-90)" textLength="97" lengthAdjust="spacingAndGlyphs">Вперед Р</text>
<text transform="translate(171.5,520) rotate(-90)" textLength="88" lengthAdjust="spacingAndGlyphs">Назад Р</text>
<text transform="translate(194.8,1070) rotate(-90)" textLength="124" lengthAdjust="spacingAndGlyphs">Управление</text>
<text transform="translate(220.3,1076) rotate(-90)" textLength="109" lengthAdjust="spacingAndGlyphs">машинами</text>
<text transform="translate(57.5,999) rotate(-90)" textLength="46" lengthAdjust="spacingAndGlyphs">Песок</text>
<text transform="translate(63.9,1362) rotate(-90)" textLength="80" lengthAdjust="spacingAndGlyphs">От +ВГ</text>
<text transform="translate(836.8,1295) rotate(-90)" textLength="138" lengthAdjust="spacingAndGlyphs">К катушкам</text>
<text transform="translate(865,1301) rotate(-90)" textLength="102" lengthAdjust="spacingAndGlyphs">ВАП и ВАЗ</text>
<text transform="translate(372,1410.8) rotate(-90)" textLength="30" lengthAdjust="spacingAndGlyphs">КМ</text>
<text transform="translate(321.6,1234.3) rotate(180)" textLength="64" lengthAdjust="spacingAndGlyphs">Вперед</text>
<text transform="translate(315.3,1263.6) rotate(180)" textLength="46" lengthAdjust="spacingAndGlyphs">Стоп</text>
<text transform="translate(317.7,1292) rotate(180)" textLength="57" lengthAdjust="spacingAndGlyphs">Назад</text>
<text transform="translate(430,1236) rotate(180)" textLength="94" lengthAdjust="spacingAndGlyphs">холостой</text>
<text transform="translate(435.6,1210) rotate(180)" textLength="35" lengthAdjust="spacingAndGlyphs">ход</text>
</g>

<text class="cap" transform="translate(934,747.5) rotate(-90)" textLength="900" lengthAdjust="spacingAndGlyphs">Рис. 20. Цепи управления реверсором и контакторами <tspan style="font-style:italic">С, СП1, СП2, ВВ</tspan> и <tspan style="font-style:italic">КВ</tspan></text>
<text class="pg" x="56.5" y="1509" style="font-style:normal">60</text>
</svg>
</body></html>
